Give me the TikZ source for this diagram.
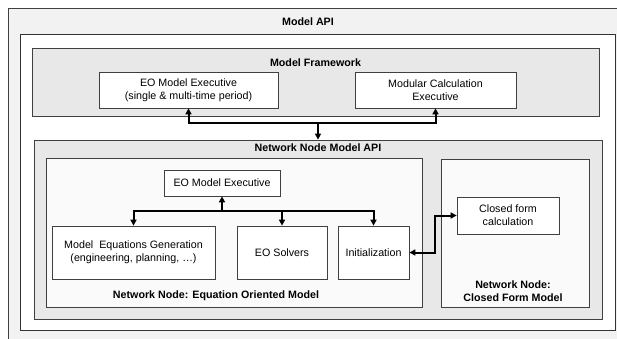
\documentclass[tikz,border=0pt]{standalone}
\usepackage{fontspec}
\setmainfont{Liberation Sans}
\usetikzlibrary{arrows.meta,shadows}
\begin{document}
\begin{tikzpicture}[x=1pt,y=-1pt,
  txt/.style={font=\fontsize{10.7}{13}\selectfont},
  box/.style={txt, draw=black!75, line width=0.7pt, fill=white, align=center, inner sep=0pt},
  frame/.style={draw=black!75, line width=0.8pt, inner sep=0pt,
     drop shadow={shadow xshift=1.2pt, shadow yshift=-1.2pt, fill=black!50, opacity=1}},
  graybox/.style={frame, fill=black!9},
  whitebox/.style={frame, fill=black!2},
  lab/.style={font=\fontsize{10.7}{13}\selectfont\bfseries, align=center, inner sep=0pt},
  conn/.style={line width=2pt, -{Triangle[length=6pt,width=6pt]}},
  conn2/.style={line width=2pt, {Triangle[length=6pt,width=6pt]}-{Triangle[length=6pt,width=6pt]}},
]
\useasboundingbox (0,0) rectangle (617,339);
\fill[white] (0,0) rectangle (617,339);
% outer Model API box (runs off the picture at right and bottom)
\node[draw=black!75, line width=0.8pt, fill=black!5, minimum width=630, minimum height=350, inner sep=0pt] (outer) at (323,183) {};
\node[draw=black!80, line width=0.8pt, fill=white, minimum width=595, minimum height=296, inner sep=0pt] (inner) at (317.5,182) {};
\node[lab] (tapi) at (308,22) {Model API};

% Model Framework
\node[graybox, minimum width=567, minimum height=68] (fw) at (315.5,82) {};
\node[lab] (tfw) at (315.5,63) {Model Framework};
\node[box, minimum width=179, minimum height=36] (fweo) at (188.5,90) {EO Model Executive\\(single \& multi-time period)};
\node[box, minimum width=161, minimum height=36] (fwmod) at (435.5,90) {Modular Calculation\\Executive};

% Network Node Model API
\node[graybox, minimum width=568, minimum height=179] (nnapi) at (318,229.5) {};
\node[lab] (tnn) at (318,148) {Network Node Model API};

% EO model
\node[whitebox, minimum width=376, minimum height=149] (eom) at (234,232.5) {};
\node[lab] (teom) at (216,296) {Network Node: Equation Oriented Model};
\node[box, minimum width=116, minimum height=26] (eoexec) at (222,183) {EO Model Executive};
\node[box, minimum width=163, minimum height=53] (modeq) at (133.5,252.5) {Model\ \ Equations Generation\\(engineering, planning, \dots)};
\node[box, minimum width=90, minimum height=53] (solvers) at (282,252.5) {EO Solvers};
\node[box, minimum width=71, minimum height=53] (init) at (373.5,252.5) {Initialization};

% Closed form model
\node[whitebox, minimum width=148, minimum height=148] (cfm) at (515,233) {};
\node[lab] (tcfm) at (513,291.5) {Network Node:\\Closed Form Model};
\node[box, minimum width=102, minimum height=37] (calc) at (508,215.5) {Closed form\\calculation};

% connectors: framework
\coordinate (hf) at (0,123);
\draw[conn2] (fweo.south) -- (fweo.south |- hf) -- (fwmod.south |- hf) -- (fwmod.south);
\draw[conn] (nnapi.north |- hf) -- (nnapi.north);

% connectors: EO model
\coordinate (he) at (0,211);
\draw[conn2] (modeq.north) -- (modeq.north |- he) -- (init.north |- he) -- (init.north);
\draw[conn] (eoexec.south |- he) -- (eoexec.south);
\draw[conn] (solvers.north |- he) -- (solvers.north);

% connector: initialization <-> closed form calculation
\coordinate (kc) at (434.5,0);
\draw[conn2] (init.east) -- (kc |- init.east) -- (kc |- calc.west) -- (calc.west);
\end{tikzpicture}
\end{document}
